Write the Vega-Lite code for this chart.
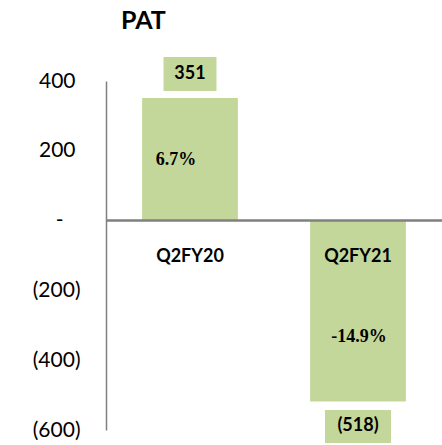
{
  "$schema": "https://vega.github.io/schema/vega-lite/v6.json",
  "autosize": "none",
  "width": 336,
  "height": 349,
  "padding": {"left": 106, "top": 81, "right": 0, "bottom": 15},
  "background": "white",
  "config": {"view": {"stroke": null}},
  "title": {"text": "PAT", "anchor": "start", "frame": "group", "dx": 15, "offset": 23, "font": "Lato", "fontSize": 25, "fontWeight": "bold", "color": "#000000"},
  "data": {"values": [
    {"cat": "Q2FY20", "value": 351, "label": "351", "pct": "6.7%"},
    {"cat": "Q2FY21", "value": -518, "label": "(518)", "pct": "-14.9%"}
  ]},
  "layer": [
    {
      "mark": {"type": "bar", "color": "#c4d79b", "width": {"band": 0.57}},
      "encoding": {
        "x": {"field": "cat", "type": "nominal", "scale": {"paddingInner": 0, "paddingOuter": 0}, "axis": null},
        "y": {"field": "value", "type": "quantitative", "scale": {"domain": [-600, 400], "nice": false, "zero": false},
          "axis": {"orient": "left", "values": [-600, -400, -200, 0, 200, 400], "title": null, "grid": false, "ticks": false,
            "domainColor": "#808080", "domainWidth": 1.5, "labelFont": "Lato", "labelFontSize": 21, "labelColor": "#000000",
            "labelExpr": "datum.value == 0 ? '-' : datum.value < 0 ? '(' + format(-datum.value, ',') + ')' : format(datum.value, ',')",
            "labelPadding": {"condition": [{"test": "datum.value > 0", "value": 31}, {"test": "datum.value == 0", "value": 43}], "value": 26}}}
      }
    },
    {
      "mark": {"type": "rule", "color": "#808080", "strokeWidth": 2},
      "encoding": {"y": {"datum": 0}}
    },
    {
      "transform": [{"filter": "datum.value > 0"}],
      "mark": {"type": "bar", "color": "#c4d79b", "width": 53, "yOffset": -41, "y2Offset": -7},
      "encoding": {
        "x": {"field": "cat", "type": "nominal"},
        "y": {"field": "value", "type": "quantitative"},
        "y2": {"field": "value"}
      }
    },
    {
      "transform": [{"filter": "datum.value < 0"}],
      "mark": {"type": "bar", "color": "#c4d79b", "width": 66, "yOffset": 8.6, "y2Offset": 41.6},
      "encoding": {
        "x": {"field": "cat", "type": "nominal"},
        "y": {"field": "value", "type": "quantitative"},
        "y2": {"field": "value"}
      }
    },
    {
      "transform": [{"filter": "datum.value > 0"}],
      "mark": {"type": "text", "font": "Lato", "fontSize": 18, "fontWeight": "bold", "color": "#000000", "dy": -24, "baseline": "middle"},
      "encoding": {
        "x": {"field": "cat", "type": "nominal"},
        "y": {"field": "value", "type": "quantitative"},
        "text": {"field": "label"}
      }
    },
    {
      "transform": [{"filter": "datum.value < 0"}],
      "mark": {"type": "text", "font": "Lato", "fontSize": 18, "fontWeight": "bold", "color": "#000000", "dy": 25, "baseline": "middle"},
      "encoding": {
        "x": {"field": "cat", "type": "nominal"},
        "y": {"field": "value", "type": "quantitative"},
        "text": {"field": "label"}
      }
    },
    {
      "transform": [{"filter": "datum.value > 0"}],
      "mark": {"type": "text", "font": "Liberation Serif", "fontSize": 18, "fontWeight": "bold", "color": "#000000", "dy": 62, "dx": -14, "baseline": "middle"},
      "encoding": {
        "x": {"field": "cat", "type": "nominal"},
        "y": {"field": "value", "type": "quantitative"},
        "text": {"field": "pct"}
      }
    },
    {
      "transform": [{"filter": "datum.value < 0"}],
      "mark": {"type": "text", "font": "Liberation Serif", "fontSize": 18, "fontWeight": "bold", "color": "#000000", "dy": -64, "dx": 1, "baseline": "middle"},
      "encoding": {
        "x": {"field": "cat", "type": "nominal"},
        "y": {"field": "value", "type": "quantitative"},
        "text": {"field": "pct"}
      }
    },
    {
      "mark": {"type": "text", "font": "Lato", "fontSize": 18, "fontWeight": "bold", "color": "#000000", "baseline": "middle"},
      "encoding": {
        "x": {"field": "cat", "type": "nominal"},
        "y": {"datum": -105},
        "text": {"field": "cat"}
      }
    }
  ]
}
